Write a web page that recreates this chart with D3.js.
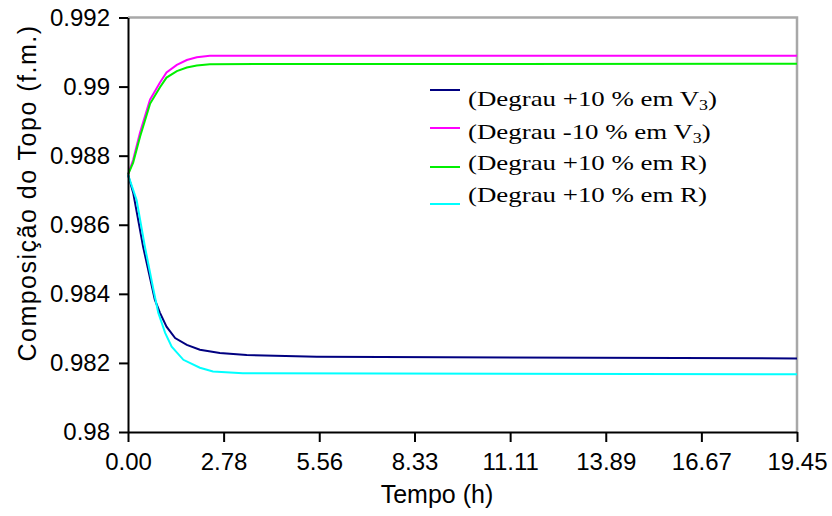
<!DOCTYPE html>
<html>
<head>
<meta charset="utf-8">
<script src="https://cdn.jsdelivr.net/npm/d3@7"></script>
<style>
  body { margin: 0; background: #fff; }
  svg { display: block; }
</style>
</head>
<body>
<div id="chart"></div>
<script>
// data (tempo in h, composicao in f.m.)
var xTickLabels = ["0.00", "2.78", "5.56", "8.33", "11.11", "13.89", "16.67", "19.45"];
var yTickLabels = ["0.98", "0.982", "0.984", "0.986", "0.988", "0.99", "0.992"];

var tV3up = [0, 0.15, 0.44, 0.78, 0.93, 1.12, 1.37, 1.71, 2.09, 2.67, 3.45, 5.49, 19.45];
var cV3up = [0.98745, 0.98693, 0.98536, 0.98383, 0.98345, 0.98305, 0.98272, 0.98252, 0.98238, 0.98229, 0.98223, 0.98218, 0.98213];

var tV3down = [0, 0.15, 0.35, 0.64, 0.93, 1.12, 1.42, 1.71, 2.0, 2.38, 19.45];
var cV3down = [0.98745, 0.98788, 0.98867, 0.98962, 0.99012, 0.99041, 0.99063, 0.99077, 0.99085, 0.99089, 0.99089];

var tRup = [0, 0.15, 0.35, 0.64, 0.93, 1.12, 1.42, 1.71, 2.0, 2.38, 19.45];
var cRup = [0.98745, 0.98780, 0.98855, 0.98950, 0.98998, 0.99026, 0.99045, 0.99055, 0.99061, 0.99065, 0.99066];

var tRdown = [0, 0.25, 0.49, 0.74, 0.88, 1.08, 1.27, 1.61, 2.09, 2.47, 3.34, 19.45];
var cRdown = [0.98745, 0.98672, 0.98537, 0.98412, 0.98345, 0.98287, 0.98247, 0.98209, 0.98186, 0.98175, 0.98170, 0.98167];

var seriesNames = ["(Degrau +10 % em V", "(Degrau -10 % em V", "(Degrau +10 % em R)", "(Degrau +10 % em R)"];
var seriesColors = ["#000080", "#ff00ff", "#00f000", "#00ffff"];

var series = [
  { t: tV3up, c: cV3up, name: seriesNames[0], sub: true, color: seriesColors[0] },
  { t: tV3down, c: cV3down, name: seriesNames[1], sub: true, color: seriesColors[1] },
  { t: tRup, c: cRup, name: seriesNames[2], sub: false, color: seriesColors[2] },
  { t: tRdown, c: cRdown, name: seriesNames[3], sub: false, color: seriesColors[3] }
];

var W = 832, H = 516;
var plot = { left: 128, right: 797, top: 17.5, bottom: 432 };

var svg = d3.select("#chart").append("svg")
  .attr("width", W)
  .attr("height", H);

var x = d3.scaleLinear().domain([0, 19.45]).range([plot.left, plot.right]);
var y = d3.scaleLinear().domain([0.98, 0.992]).range([plot.bottom, plot.top]);

// gray frame on top and right
svg.append("path")
  .attr("d", "M" + plot.left + "," + plot.top + "H" + plot.right + "V" + plot.bottom)
  .attr("fill", "none")
  .attr("stroke", "#a8a8a8")
  .attr("stroke-width", 2.5);

// lines
var line = d3.line()
  .x(function(d) { return x(d[0]); })
  .y(function(d) { return y(d[1]); });

series.forEach(function(s) {
  svg.append("path")
    .datum(d3.zip(s.t, s.c))
    .attr("d", line)
    .attr("fill", "none")
    .attr("stroke", s.color)
    .attr("stroke-width", 2);
});

// x axis
var xAxis = svg.append("g")
  .attr("transform", "translate(0," + plot.bottom + ")")
  .call(d3.axisBottom(x)
    .tickValues(xTickLabels.map(Number))
    .tickFormat(function(d, i) { return xTickLabels[i]; })
    .tickSize(10)
    .tickSizeOuter(0)
    .tickPadding(11));

// y axis
var yAxis = svg.append("g")
  .attr("transform", "translate(" + plot.left + ",0)")
  .call(d3.axisLeft(y)
    .tickValues(yTickLabels.map(Number))
    .tickFormat(function(d, i) { return yTickLabels[i]; })
    .tickSize(9)
    .tickSizeOuter(0)
    .tickPadding(9));

[xAxis, yAxis].forEach(function(a) {
  a.select(".domain").attr("stroke", "#000").attr("stroke-width", 2);
  a.selectAll(".tick line").attr("stroke", "#000").attr("stroke-width", 2);
  a.selectAll(".tick text")
    .style("font-family", "'Liberation Sans', Arial, sans-serif")
    .style("font-size", "24px")
    .attr("fill", "#000");
});

// axis titles
svg.append("text")
  .attr("x", 437)
  .attr("y", 503)
  .attr("text-anchor", "middle")
  .style("font-family", "'Liberation Sans', Arial, sans-serif")
  .style("font-size", "25px")
  .text("Tempo (h)");

svg.append("text")
  .attr("transform", "translate(36,193) rotate(-90)")
  .attr("text-anchor", "middle")
  .style("font-family", "'Liberation Sans', Arial, sans-serif")
  .style("font-size", "25px")
  .style("letter-spacing", "1.5px")
  .text("Composição do Topo (f.m.)");

// legend (line marks sit a little off the text rows, as in the original)
var legLineY = [90, 128, 167, 204];
var legTextY = [99, 132, 163, 195];

var legend = svg.selectAll(".legend")
  .data(series)
  .enter().append("g")
  .attr("class", "legend");

legend.append("line")
  .attr("x1", 430)
  .attr("x2", 460)
  .attr("y1", function(d, i) { return legLineY[i]; })
  .attr("y2", function(d, i) { return legLineY[i]; })
  .attr("stroke", function(d) { return d.color; })
  .attr("stroke-width", 2);

var legText = legend.append("text")
  .attr("transform", function(d, i) { return "translate(468," + legTextY[i] + ") scale(1.28,1)"; })
  .attr("dy", "0.35em")
  .style("font-family", "'Liberation Serif', 'Times New Roman', serif")
  .style("font-size", "21px")
  .attr("fill", "#000");

legText.append("tspan").text(function(d) { return d.name; });
legText.filter(function(d) { return d.sub; })
  .append("tspan")
  .attr("dy", "0.25em")
  .style("font-size", "14px")
  .text("3");
legText.filter(function(d) { return d.sub; })
  .append("tspan")
  .attr("dy", "-0.18em")
  .text(")");
</script>
</body>
</html>
